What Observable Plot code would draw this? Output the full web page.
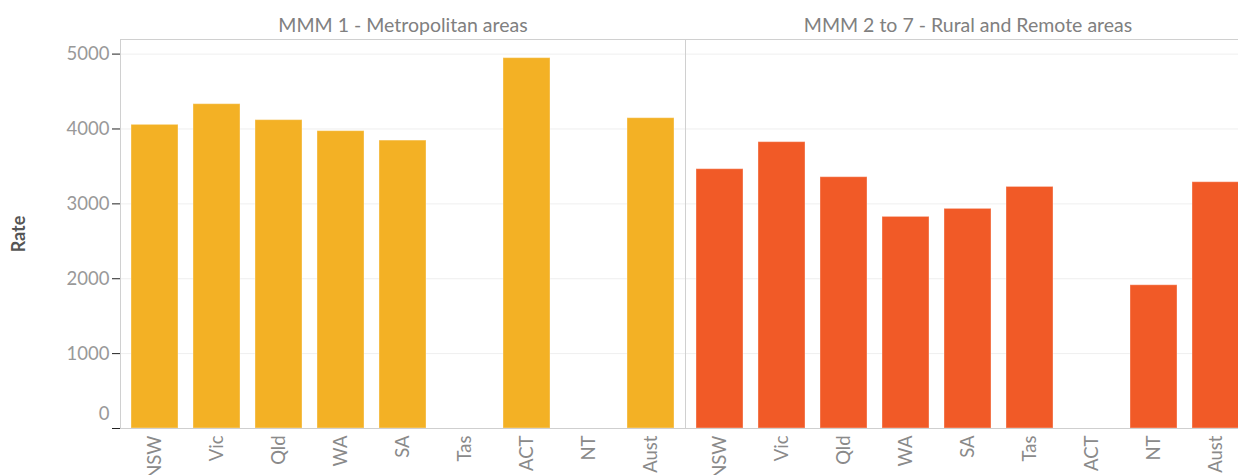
<!DOCTYPE html>
<html>
<head>
<meta charset="utf-8">
<script src="https://cdn.jsdelivr.net/npm/d3@7"></script>
<script src="https://cdn.jsdelivr.net/npm/@observablehq/plot@0.6"></script>
<style>
  html, body { margin: 0; padding: 0; background: #fff; overflow: hidden; }
  #chart { width: 1238px; height: 475px; overflow: hidden; }
  #chart svg { display: block; max-width: none; }
  g[aria-label="y-axis label"] text { font-weight: bold; fill: #555; font-size: 18px; }
  g[aria-label="fx-axis tick label"] text { fill: #808080; font-size: 19.5px; }
  g[aria-label="x-axis tick label"] text { fill: #8a8a8a; }
</style>
</head>
<body>
<div id="chart"></div>
<script>
const states = ["NSW", "Vic", "Qld", "WA", "SA", "Tas", "ACT", "NT", "Aust"];
const regions = ["MMM 1 - Metropolitan areas", "MMM 2 to 7 - Rural and Remote areas"];
const metroRates = [4055, 4331, 4118, 3971, 3845, null, 4946, null, 4144];
const ruralRates = [3463, 3824, 3356, 2826, 2933, 3226, null, 1913, 3289];
const regionColors = ["#F3B125", "#F15A27"];
const yTicks = [0, 1000, 2000, 3000, 4000, 5000];

const rows = [];
states.forEach((s, i) => {
  if (metroRates[i] != null) rows.push({region: regions[0], state: s, rate: metroRates[i]});
  if (ruralRates[i] != null) rows.push({region: regions[1], state: s, rate: ruralRates[i]});
});

const chart = Plot.plot({
  width: 1250,
  height: 475,
  marginLeft: 120,
  marginRight: 0,
  marginTop: 39,
  marginBottom: 47,
  style: {fontFamily: "Lato, sans-serif", fontSize: "18.5px", color: "#999", background: "#fff", maxWidth: "none"},
  fx: {domain: regions, padding: 0, label: null},
  x: {domain: states, paddingInner: 0.245, paddingOuter: 0.1225, label: null},
  y: {domain: [0, 5195], label: null},
  color: {domain: regions, range: regionColors},
  marks: [
    Plot.gridY(yTicks.slice(1), {stroke: "#efefef", strokeOpacity: 1}),
    Plot.barY(rows, {fx: "region", x: "state", y: "rate", fill: "region", stroke: "#fff", strokeOpacity: 0.35, strokeWidth: 1}),
    Plot.ruleY([0], {stroke: "#cfcfcf"}),
    Plot.frame({stroke: "#d0d0d0", anchor: "left"}),
    Plot.frame({stroke: "#d0d0d0", anchor: "top"}),
    Plot.axisFx({anchor: "top", tickSize: 0, tickPadding: 8, label: null}),
    Plot.axisX({anchor: "bottom", tickRotate: -90, tickSize: 0, tickPadding: 7, label: null}),
    Plot.axisY({ticks: yTicks, tickSize: 8, tickPadding: 3, stroke: "#222", tickFormat: d => d === 0 ? "" : String(d), label: "Rate", labelAnchor: "center", labelOffset: 108, labelArrow: "none"}),
    Plot.axisY({ticks: [0], tickSize: 0, tickPadding: 11, dy: -14, tickFormat: d => String(d), label: null})
  ]
});
document.getElementById("chart").appendChild(chart);
</script>
</body>
</html>
